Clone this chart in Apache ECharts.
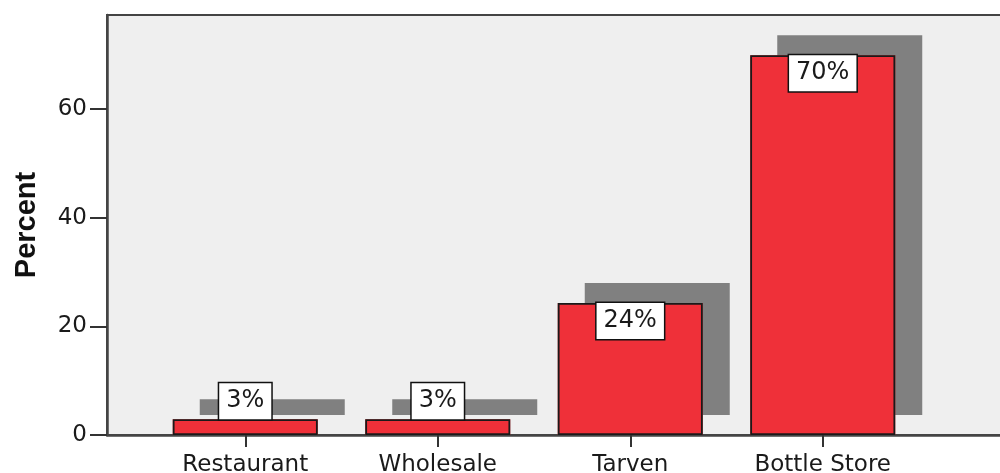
<!DOCTYPE html>
<html>
<head>
<meta charset="utf-8">
<script src="https://cdn.jsdelivr.net/npm/echarts@6/dist/echarts.min.js"></script>
<style>
html,body{margin:0;padding:0;background:#fff;}
#chart{width:1000px;height:473px;}
</style>
</head>
<body>
<div id="chart"></div>
<script>
const categories = ['Restaurant', 'Wholesale', 'Tarven', 'Bottle Store'];
const percentValues = [2.9, 2.9, 24.3, 69.9];
const yTickValues = [0, 20, 40, 60];
const yAxisTitle = 'Percent';

const Y_MAX = 77.3;
const labelFont = 'DejaVu Sans';

const chart = echarts.init(document.getElementById('chart'), null, {renderer: 'canvas'});

const labelData = percentValues.map(function (v) {
  const big = v > 10;
  return {
    value: v,
    label: {position: big ? 'insideTop' : 'top', distance: 0}
  };
});

chart.setOption({
  animation: false,
  backgroundColor: '#ffffff',
  grid: [
    {left: 107, top: 15, right: -20, bottom: 38, show: true, containLabel: false, outerBoundsMode: 'none',
     backgroundColor: '#efefef', borderColor: '#444', borderWidth: 2},
    {left: 149, width: 770, top: 15, bottom: 38, show: false, containLabel: false, outerBoundsMode: 'none'}
  ],
  xAxis: [
    {gridIndex: 0, type: 'value', min: 0, max: 1,
     axisLine: {show: true, onZero: false, lineStyle: {color: '#444', width: 2.5}},
     axisTick: {show: false}, axisLabel: {show: false}, splitLine: {show: false}},
    {gridIndex: 1, type: 'category', data: categories,
     axisLine: {show: false},
     axisTick: {show: true, alignWithLabel: true, length: 12, lineStyle: {color: '#333', width: 2}},
     axisLabel: {margin: 19, fontFamily: labelFont, fontSize: 23, color: '#1a1a1a'}}
  ],
  yAxis: [
    {gridIndex: 0, type: 'value', min: 0, max: Y_MAX,
     axisLine: {show: true, lineStyle: {color: '#444', width: 2.5}},
     axisTick: {show: true, customValues: yTickValues, length: 17, lineStyle: {color: '#333', width: 2}},
     axisLabel: {customValues: yTickValues, margin: 20, fontFamily: labelFont, fontSize: 23, color: '#1a1a1a'},
     splitLine: {show: false},
     name: yAxisTitle, nameLocation: 'middle', nameGap: 66,
     nameTextStyle: {fontFamily: 'Liberation Sans', fontWeight: 'bold', fontSize: 29, color: '#111'}},
    {gridIndex: 1, type: 'value', min: 0, max: Y_MAX, show: false}
  ],
  series: [
    {
      name: 'fill',
      type: 'bar',
      xAxisIndex: 1,
      yAxisIndex: 1,
      barWidth: 145,
      barGap: '-100%',
      clip: false,
      z: 2,
      data: percentValues,
      itemStyle: {
        color: '#ef3039',
        borderWidth: 0,
        shadowColor: '#808080',
        shadowBlur: 0,
        shadowOffsetX: 27,
        shadowOffsetY: -20
      },
      emphasis: {disabled: true}
    },
    {
      name: 'outline',
      type: 'bar',
      xAxisIndex: 1,
      yAxisIndex: 1,
      barWidth: 145,
      barGap: '-100%',
      clip: false,
      z: 3,
      data: labelData,
      itemStyle: {
        color: 'rgba(0,0,0,0)',
        borderColor: '#1a1a1a',
        borderWidth: 1.8
      },
      label: {
        show: true,
        formatter: function (p) { return Math.round(p.value) + '%'; },
        fontFamily: labelFont,
        fontSize: 24,
        lineHeight: 24,
        color: '#1a1a1a',
        backgroundColor: '#ffffff',
        borderColor: '#111',
        borderWidth: 1.5,
        padding: [6, 7, 6, 7]
      },
      emphasis: {disabled: true}
    }
  ]
});
</script>
</body>
</html>
